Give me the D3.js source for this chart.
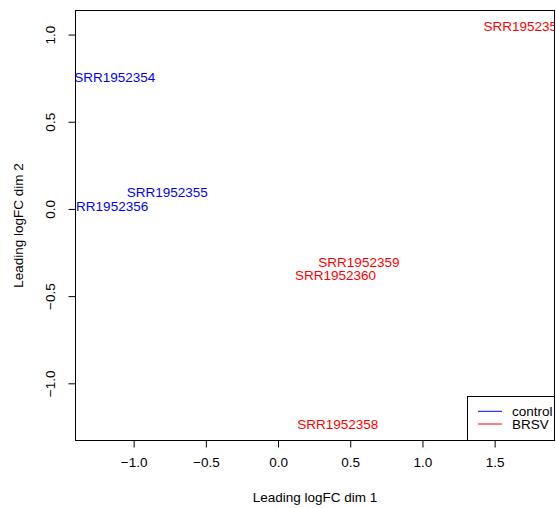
<!DOCTYPE html>
<html>
<head>
<meta charset="utf-8">
<script src="https://cdn.jsdelivr.net/npm/d3@7"></script>
<style>
  body { margin: 0; background: #fff; }
  text { font-family: "Liberation Sans", Arial, sans-serif; }
</style>
</head>
<body>
<script>
// MDS coordinates
var samples = ["SRR1952354", "SRR1952355", "SRR1952356", "SRR1952357", "SRR1952358", "SRR1952359", "SRR1952360"];
var groups = ["control", "control", "control", "BRSV", "BRSV", "BRSV", "BRSV"];
var dim1 = [-1.131, -0.767, -1.18, 1.704, 0.413, 0.56, 0.398];
var dim2 = [0.753, 0.096, 0.013, 1.045, -1.235, -0.308, -0.378];
var xTicks = [-1.0, -0.5, 0.0, 0.5, 1.0, 1.5];
var yTicks = [-1.0, -0.5, 0.0, 0.5, 1.0];
var legendLabels = ["control", "BRSV"];
var legendColors = ["#0000ff", "#ff0000"];

var W = 556, H = 508;
var pLeft = 75.5, pTop = 10.5, pRight = 554.5, pBottom = 440.5;
var fs = 13.5;

var svg = d3.select("body").append("svg").attr("width", W).attr("height", H);

var x = d3.scaleLinear().domain([-1.404, 1.918]).range([75.3, 555]);
var y = d3.scaleLinear().domain([-1.329, 1.139]).range([440.7, 10.3]);
var color = d3.scaleOrdinal().domain(legendLabels).range(legendColors);
var fmt = d3.format(".1f");

// clip labels to the plot box
svg.append("clipPath").attr("id", "clip")
   .append("rect").attr("x", pLeft).attr("y", pTop)
   .attr("width", pRight - pLeft).attr("height", pBottom - pTop);

// axes
var xAxis = svg.append("g").attr("transform", "translate(0," + pBottom + ")")
               .call(d3.axisBottom(x).tickValues(xTicks).tickFormat(fmt).tickSize(7).tickPadding(10).tickSizeOuter(0));
xAxis.select(".domain").remove();
xAxis.selectAll("text").attr("font-size", fs).attr("font-family", "Liberation Sans, Arial, sans-serif").attr("fill", "#000");
xAxis.selectAll("line").attr("stroke", "#000");

var yAxis = svg.append("g").attr("transform", "translate(" + pLeft + ",0)")
               .call(d3.axisLeft(y).tickValues(yTicks).tickFormat(fmt).tickSize(7).tickSizeOuter(0));
yAxis.select(".domain").remove();
yAxis.selectAll("line").attr("stroke", "#000");
yAxis.selectAll("text")
     .attr("font-size", fs).attr("font-family", "Liberation Sans, Arial, sans-serif").attr("fill", "#000")
     .attr("x", null)
     .attr("text-anchor", "middle")
     .attr("transform", "translate(-25,0) rotate(-90)")
     .attr("dy", "0.35em");

// frame
svg.append("rect").attr("x", pLeft).attr("y", pTop)
   .attr("width", pRight - pLeft).attr("height", pBottom - pTop)
   .attr("fill", "none").attr("stroke", "#000").attr("stroke-width", 1);

// sample labels
svg.append("g").attr("clip-path", "url(#clip)")
   .selectAll("text").data(samples).enter().append("text")
   .attr("x", function(d, i) { return x(dim1[i]); })
   .attr("y", function(d, i) { return y(dim2[i]); })
   .attr("dy", "0.35em")
   .attr("text-anchor", "middle")
   .attr("font-size", fs)
   .attr("fill", function(d, i) { return color(groups[i]); })
   .text(function(d) { return d; });

// axis titles
svg.append("text").attr("x", (pLeft + pRight) / 2).attr("y", 497).attr("dy", "0.35em")
   .attr("text-anchor", "middle").attr("font-size", fs).text("Leading logFC dim 1");
svg.append("text").attr("transform", "translate(18," + (pTop + pBottom) / 2 + ") rotate(-90)")
   .attr("dy", "0.35em").attr("text-anchor", "middle").attr("font-size", fs).text("Leading logFC dim 2");

// legend, bottom right
var lg = svg.append("g");
lg.append("rect").attr("x", 467.5).attr("y", 396.5)
  .attr("width", pRight - 467.5).attr("height", pBottom - 396.5)
  .attr("fill", "#fff").attr("stroke", "#000");
var item = lg.selectAll("g.item").data(legendLabels).enter().append("g")
  .attr("transform", function(d, i) { return "translate(0," + (411.3 + i * 12.7) + ")"; });
item.append("line").attr("x1", 478).attr("x2", 502).attr("y1", 0).attr("y2", 0)
  .attr("stroke", function(d) { return color(d); });
item.append("text").attr("x", 512).attr("dy", "0.35em").attr("font-size", fs).text(function(d) { return d; });
</script>
</body>
</html>
